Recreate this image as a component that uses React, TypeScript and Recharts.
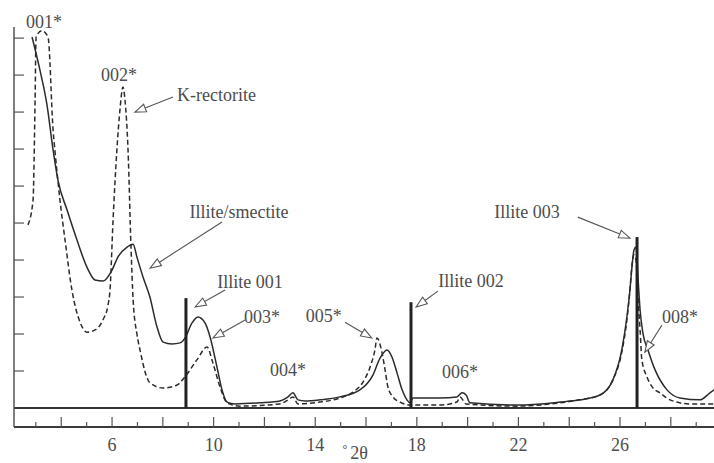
import React from "react";
import {
  ComposedChart,
  Line,
  XAxis,
  YAxis,
  ReferenceLine,
  ReferenceDot,
} from "recharts";

// Illite/smectite trace (solid): 2θ in degrees, intensity in tick units
const mixedAngles = [
  2.85, 3.16, 3.44, 3.68, 3.87, 4.23, 4.62, 5.01, 5.33, 5.64, 6.0, 6.23, 6.59,
  6.83, 6.98, 7.22, 7.49, 7.77, 8.01, 8.36, 8.68, 8.87, 9.15, 9.38, 9.66, 9.86,
  10.13, 10.33, 10.53, 10.84, 11.83, 12.61, 12.93, 13.12, 13.32, 13.6, 14.19,
  14.97, 15.76, 16.27, 16.55, 16.83, 17.02, 17.22, 17.42, 17.61, 17.73, 17.85,
  18.91, 19.58, 19.78, 19.94, 20.09, 21.94, 23.64, 24.42, 25.21, 25.72, 26.07,
  26.27, 26.39, 26.47, 26.55, 26.63, 26.71, 26.79, 26.9, 27.1, 27.38, 27.85,
  28.36, 29.15, 29.54, 29.7,
];
const mixedCounts = [
  10.03, 9.14, 8.19, 6.97, 6.16, 5.35, 4.54, 3.81, 3.46, 3.43, 3.73, 4.08, 4.35,
  4.43, 4.08, 3.54, 3.0, 2.19, 1.78, 1.73, 1.76, 1.89, 2.3, 2.46, 2.3, 1.92,
  1.11, 0.49, 0.16, 0.11, 0.14, 0.19, 0.3, 0.41, 0.22, 0.19, 0.22, 0.3, 0.49,
  0.89, 1.35, 1.57, 1.38, 0.95, 0.49, 0.22, 0.14, 0.27, 0.27, 0.3, 0.41, 0.35,
  0.14, 0.08, 0.16, 0.22, 0.35, 0.76, 1.57, 2.46, 3.19, 3.81, 4.27, 4.35, 3.5,
  2.65, 2.03, 1.57, 1.03, 0.49, 0.27, 0.22, 0.41, 0.49,
];

// K-rectorite trace (dashed)
const rectoriteAngles = [
  2.69, 2.89, 2.97, 3.01, 3.24, 3.48, 3.68, 3.75, 3.95, 4.15, 4.42, 4.74, 5.01,
  5.33, 5.64, 5.84, 5.92, 6.04, 6.19, 6.31, 6.43, 6.51, 6.63, 6.75, 6.83, 6.98,
  7.1, 7.49, 8.01, 8.56, 8.87, 9.34, 9.74, 9.97, 10.25, 10.53, 11.04, 12.61,
  12.93, 13.12, 13.32, 14.19, 14.97, 15.49, 15.88, 16.16, 16.35, 16.43, 16.63,
  16.75, 16.86, 17.06, 17.34, 17.73, 18.91, 19.58, 19.7, 19.94, 21.94, 23.64,
  24.42, 25.21, 25.72, 26.07, 26.27, 26.39, 26.47, 26.55, 26.63, 26.71, 26.79,
  26.86, 27.06, 27.3, 27.57, 27.97, 28.75, 29.7,
];
const rectoriteCounts = [
  4.95, 5.62, 8.32, 10.03, 10.2, 10.03, 7.5, 6.97, 5.62, 4.54, 3.19, 2.32, 2.05,
  2.11, 2.38, 2.78, 3.19, 5.08, 6.97, 8.05, 8.68, 8.32, 6.97, 4.27, 2.92, 2.0,
  1.57, 0.68, 0.54, 0.62, 0.84, 1.3, 1.65, 1.22, 0.57, 0.14, 0.05, 0.11, 0.22,
  0.3, 0.11, 0.16, 0.27, 0.43, 0.7, 1.11, 1.57, 1.89, 1.49, 1.03, 0.57, 0.3,
  0.16, 0.08, 0.08, 0.16, 0.3, 0.11, 0.05, 0.14, 0.22, 0.35, 0.76, 1.51, 2.38,
  3.19, 3.86, 4.14, 4.0, 2.92, 2.11, 1.3, 0.84, 0.54, 0.41, 0.22, 0.11, 0.11,
];

// Reference illite reflections (stick lines)
const illiteAngles = [8.91, 17.77, 26.67];
const illiteHeights = [2.97, 2.86, 4.62];

// Peak annotations: text, centre position [2θ, intensity]
const noteTexts = [
  "001*", "002*", "Illite/smectite", "Illite 001", "003*", "004*", "005*",
  "Illite 002", "006*", "Illite 003", "008*",
];
const noteAngles = [3.32, 6.27, 11.0, 11.43, 11.9, 12.93, 14.34, 20.13, 19.7, 22.34, 28.36];
const noteLevels = [10.43, 9.0, 5.3, 3.41, 2.46, 1.03, 2.49, 3.43, 0.97, 5.3, 2.46];

// Left-anchored annotation
const sideText = "K-rectorite";
const sideAngle = 8.56;
const sideLevel = 8.46;

// Leader arrows: start and tip as [2θ, intensity]
const arrowStarts = [
  [8.4, 8.41], [10.33, 5.03], [10.45, 3.19], [11.24, 2.38], [15.17, 2.32],
  [18.83, 3.16], [24.34, 5.16], [27.65, 2.24],
];
const arrowTips = [
  [6.9, 8.0], [7.5, 3.78], [9.27, 2.73], [9.97, 1.89], [16.23, 1.89],
  [17.97, 2.73], [26.39, 4.59], [26.98, 1.51],
];

const xTicks = [3, 4, 5, 6, 7, 8, 9, 10, 11, 12, 13, 14, 15, 16, 17, 18, 19, 20, 21, 22, 23, 24, 25, 26, 27, 28, 29];
const xLabelled = [6, 10, 14, 18, 22, 26];
const yTicks = [1, 2, 3, 4, 5, 6, 7, 8, 9, 10];

const axisTitleAngle = 15.57;
const axisTitleLevel = -1.22;

const mixedData = mixedAngles.map((t, i) => ({ t, v: mixedCounts[i] }));
const rectoriteData = rectoriteAngles.map((t, i) => ({ t, v: rectoriteCounts[i] }));

const INK = "#2b2b2b";
const TEXT = "#4d4d4d";
const FONT = "'Liberation Serif', 'DejaVu Serif', serif";

function XTick(props: any) {
  const { x, y, payload } = props;
  const value = payload.value as number;
  const len = value % 2 === 0 ? 10 : 5;
  return (
    <g>
      <line x1={x} x2={x} y1={y} y2={y - len} stroke="#555" strokeWidth={1.2} />
      {xLabelled.includes(value) && (
        <text x={x} y={y + 24} textAnchor="middle" fontFamily={FONT} fontSize={18} fill={TEXT}>
          {value}
        </text>
      )}
    </g>
  );
}

function YTick(props: any) {
  const { x, y } = props;
  return <line x1={x} x2={x + 10} y1={y} y2={y} stroke="#555" strokeWidth={1.2} />;
}

function Arrow(props: any) {
  const { x1, y1, x2, y2 } = props;
  const dx = x2 - x1;
  const dy = y2 - y1;
  const len = Math.hypot(dx, dy) || 1;
  const ux = dx / len;
  const uy = dy / len;
  const hl = 11;
  const hw = 4;
  const bx = x2 - ux * hl;
  const by = y2 - uy * hl;
  const px = -uy * hw;
  const py = ux * hw;
  return (
    <g>
      <line x1={x1} y1={y1} x2={bx} y2={by} stroke="#555" strokeWidth={1.1} />
      <polygon
        points={`${x2},${y2} ${bx + px},${by + py} ${bx - px},${by - py}`}
        fill="#fff"
        stroke="#555"
        strokeWidth={1.1}
      />
    </g>
  );
}

function noteShape(text: string, anchor: "middle" | "start") {
  return (p: any) => (
    <text
      x={p.cx}
      y={p.cy}
      textAnchor={anchor}
      dominantBaseline="central"
      fontFamily={FONT}
      fontSize={18}
      fill={TEXT}
    >
      {text}
    </text>
  );
}

function axisTitleShape(p: any) {
  return (
    <text x={p.cx} y={p.cy} textAnchor="middle" dominantBaseline="central" fontFamily={FONT} fill={TEXT}>
      <tspan fontSize={12} dy={-4}>°</tspan>
      <tspan fontSize={18} dy={4} dx={3}>2θ</tspan>
    </text>
  );
}

export default function App() {
  return (
    <div style={{ position: "absolute", left: 0, top: 0, background: "#fff" }}>
      <ComposedChart
        width={714}
        height={463}
        margin={{ top: 27, right: 0, bottom: 0, left: 0 }}
      >
        <XAxis
          type="number"
          dataKey="t"
          domain={[2.14, 29.7]}
          ticks={xTicks}
          interval={0}
          allowDataOverflow
          height={36}
          tickSize={0}
          tickMargin={0}
          tickLine={false}
          tick={<XTick />}
          axisLine={{ stroke: "#3a3a3a", strokeWidth: 2 }}
        />
        <YAxis
          type="number"
          domain={[-0.514, 10.3]}
          ticks={yTicks}
          interval={0}
          allowDataOverflow
          width={14}
          tickSize={0}
          tickMargin={0}
          tickLine={false}
          tick={<YTick />}
          axisLine={{ stroke: "#555", strokeWidth: 1.5 }}
        />
        <ReferenceLine y={0} stroke="#333" strokeWidth={2} />
        <Line
          data={rectoriteData}
          dataKey="v"
          type="monotone"
          stroke={INK}
          strokeWidth={1.5}
          strokeDasharray="5 3"
          dot={false}
          isAnimationActive={false}
        />
        <Line
          data={mixedData}
          dataKey="v"
          type="monotone"
          stroke={INK}
          strokeWidth={1.5}
          dot={false}
          isAnimationActive={false}
        />
        {illiteAngles.map((t, i) => (
          <ReferenceLine
            key={`ill-${i}`}
            segment={[
              { x: t, y: 0 },
              { x: t, y: illiteHeights[i] },
            ]}
            stroke="#222"
            strokeWidth={3}
          />
        ))}
        {arrowStarts.map((s, i) => (
          <ReferenceLine
            key={`arr-${i}`}
            segment={[
              { x: s[0], y: s[1] },
              { x: arrowTips[i][0], y: arrowTips[i][1] },
            ]}
            ifOverflow="visible"
            shape={Arrow}
          />
        ))}
        {noteTexts.map((text, i) => (
          <ReferenceDot
            key={`note-${i}`}
            x={noteAngles[i]}
            y={noteLevels[i]}
            r={0}
            ifOverflow="visible"
            shape={noteShape(text, "middle")}
          />
        ))}
        <ReferenceDot
          x={sideAngle}
          y={sideLevel}
          r={0}
          ifOverflow="visible"
          shape={noteShape(sideText, "start")}
        />
        <ReferenceDot
          x={axisTitleAngle}
          y={axisTitleLevel}
          r={0}
          ifOverflow="visible"
          shape={axisTitleShape}
        />
      </ComposedChart>
    </div>
  );
}
